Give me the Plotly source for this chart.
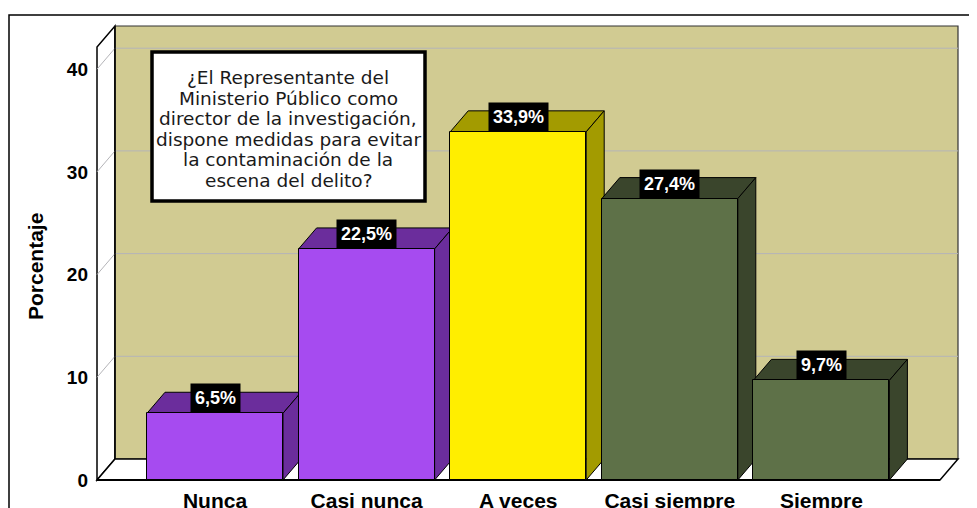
import plotly.graph_objects as go

# --- data ---------------------------------------------------------------
categorias = ["Nunca", "Casi nunca", "A veces", "Casi siempre", "Siempre"]
porcentajes = [6.5, 22.5, 33.9, 27.4, 9.7]
etiquetas = ["6,5%", "22,5%", "33,9%", "27,4%", "9,7%"]
y_ticks = [0, 10, 20, 30, 40]
pregunta = [
    "¿El Representante del",
    "Ministerio Público como",
    "director de la investigación,",
    "dispone medidas para evitar",
    "la contaminación de la",
    "escena del delito?",
]

# --- colours --------------------------------------------------------------
color_frente = ["#A64BF0", "#A64BF0", "#FFEE00", "#5E7148", "#5E7148"]
color_lado = ["#6B2D9C", "#6B2D9C", "#A39B00", "#3A452C", "#3A452C"]
PARED = "#D1CB92"
REJILLA = "#B4B4B8"
FONT = "Arial, Liberation Sans, sans-serif"

# --- geometry (screen pixels; the page body adds an 8px offset) -----------
W, H = 977, 508
OFF = 8
L, R, T, B = 92, 964, 20, 486          # plot area on screen
X0_PX, PITCH = 215, 151.6              # centre of first bar, bar pitch
Y0_PX, SY = 480, 10.27                 # baseline, px per percent
x_range = [(L - X0_PX) / PITCH, (R - X0_PX) / PITCH]
y_range = [(Y0_PX - B) / SY, (Y0_PX - T) / SY]
DX, DY = 18 / PITCH, 21 / SY           # 3D depth in data units
BAR_W = 136 / PITCH
X_FRONT = (97 - X0_PX) / PITCH         # left front edge of the box
X_BACK = (958 - X0_PX) / PITCH         # right edge of back wall
Y_TOP = (Y0_PX - 26) / SY              # top of back wall


def pxx(p):
    return (p - L) / (R - L)


def pxy(p):
    return (B - p) / (B - T)


def path(pts):
    return "M " + " L ".join(f"{x},{y}" for x, y in pts) + " Z"


shapes = []
# outer frame
shapes.append(dict(type="rect", xref="paper", yref="paper", x0=pxx(9), x1=pxx(990),
                   y0=pxy(530), y1=pxy(15), line=dict(color="black", width=1.5), layer="below"))
# left wall
shapes.append(dict(type="path", xref="x", yref="y", layer="below",
                   path=path([(X_FRONT, 0), (X_FRONT + DX, DY), (X_FRONT + DX, Y_TOP), (X_FRONT, Y_TOP - DY)]),
                   fillcolor="white", line=dict(color="black", width=1.5)))
# back wall
shapes.append(dict(type="rect", xref="x", yref="y", layer="below",
                   x0=X_FRONT + DX, x1=X_BACK, y0=DY, y1=Y_TOP,
                   fillcolor=PARED, line=dict(color="#333333", width=1.2)))
# floor
shapes.append(dict(type="path", xref="x", yref="y", layer="below",
                   path=path([(X_FRONT, 0), (X_BACK - DX, 0), (X_BACK, DY), (X_FRONT + DX, DY)]),
                   fillcolor="white", line=dict(color="black", width=1.5)))
# grid lines on walls
for v in y_ticks[1:]:
    shapes.append(dict(type="line", xref="x", yref="y", layer="below",
                       x0=X_FRONT, y0=v, x1=X_FRONT + DX, y1=v + DY, line=dict(color=REJILLA, width=1)))
    shapes.append(dict(type="line", xref="x", yref="y", layer="below",
                       x0=X_FRONT + DX, y0=v + DY, x1=X_BACK, y1=v + DY, line=dict(color=REJILLA, width=1)))
# back edges of walls drawn on top of grid
shapes.append(dict(type="line", xref="x", yref="y", layer="below",
                   x0=X_FRONT + DX, y0=DY, x1=X_FRONT + DX, y1=Y_TOP, line=dict(color="black", width=1.5)))
shapes.append(dict(type="line", xref="x", yref="y", layer="below",
                   x0=X_FRONT, y0=0, x1=X_BACK - DX, y1=0, line=dict(color="black", width=2)))

# 3D top and side of each bar
for i, v in enumerate(porcentajes):
    xl, xr = i - BAR_W / 2, i + BAR_W / 2
    shapes.append(dict(type="path", xref="x", yref="y", layer="between",
                       path=path([(xl, v), (xl + DX, v + DY), (xr + DX, v + DY), (xr, v)]),
                       fillcolor=color_lado[i], line=dict(color="black", width=1)))
    shapes.append(dict(type="path", xref="x", yref="y", layer="between",
                       path=path([(xr, 0), (xr + DX, DY), (xr + DX, v + DY), (xr, v)]),
                       fillcolor=color_lado[i], line=dict(color="black", width=1)))

# question box
shapes.append(dict(type="rect", xref="paper", yref="paper", layer="above",
                   x0=pxx(152), x1=pxx(425), y0=pxy(201), y1=pxy(52),
                   fillcolor="white", line=dict(color="black", width=3.5)))

fig = go.Figure()
fig.add_trace(go.Bar(
    x=list(range(len(categorias))),
    y=porcentajes,
    width=BAR_W,
    marker=dict(color=color_frente, line=dict(color="black", width=1)),
    hovertemplate="%{customdata}: %{y}%<extra></extra>",
    customdata=categorias,
))

annotations = []
for i, (v, t) in enumerate(zip(porcentajes, etiquetas)):
    annotations.append(dict(x=i, y=v, xref="x", yref="y", text=f"<b>{t}</b>", showarrow=False,
                            xanchor="center", yanchor="bottom", bgcolor="black", borderpad=4,
                            font=dict(family=FONT, size=18, color="white")))
for k, linea in enumerate(pregunta):
    annotations.append(dict(x=pxx(288), y=pxy(78 + k * 20.4), xref="paper", yref="paper", text=linea,
                            showarrow=False, xanchor="center", yanchor="middle",
                            font=dict(family="DejaVu Sans, sans-serif", size=18.5, color="#1a1a1a")))
annotations.append(dict(x=pxx(35), y=pxy(267), xref="paper", yref="paper", text="<b>Porcentaje</b>",
                        showarrow=False, textangle=-90, xanchor="center", yanchor="middle",
                        font=dict(family=FONT, size=21, color="black")))

fig.update_layout(
    width=W, height=H, autosize=False,
    margin=dict(l=L - OFF, r=W - R + OFF, t=T - OFF, b=H - B + OFF),
    paper_bgcolor="white", plot_bgcolor="rgba(0,0,0,0)",
    showlegend=False,
    bargap=0,
    shapes=shapes,
    annotations=annotations,
    xaxis=dict(range=x_range, tickvals=list(range(len(categorias))),
               ticktext=[f"<b>{c}</b>" for c in categorias], automargin=False,
               showgrid=False, zeroline=False, showline=False, ticks="",
               tickfont=dict(family=FONT, size=21, color="black")),
    yaxis=dict(range=y_range, tickvals=y_ticks, ticktext=[f"<b>{v}</b>" for v in y_ticks],
               automargin=False, ticklabelstandoff=3,
               showgrid=False, zeroline=False, showline=False, ticks="",
               tickfont=dict(family=FONT, size=19, color="black")),
)

fig.write_html("out.html")
